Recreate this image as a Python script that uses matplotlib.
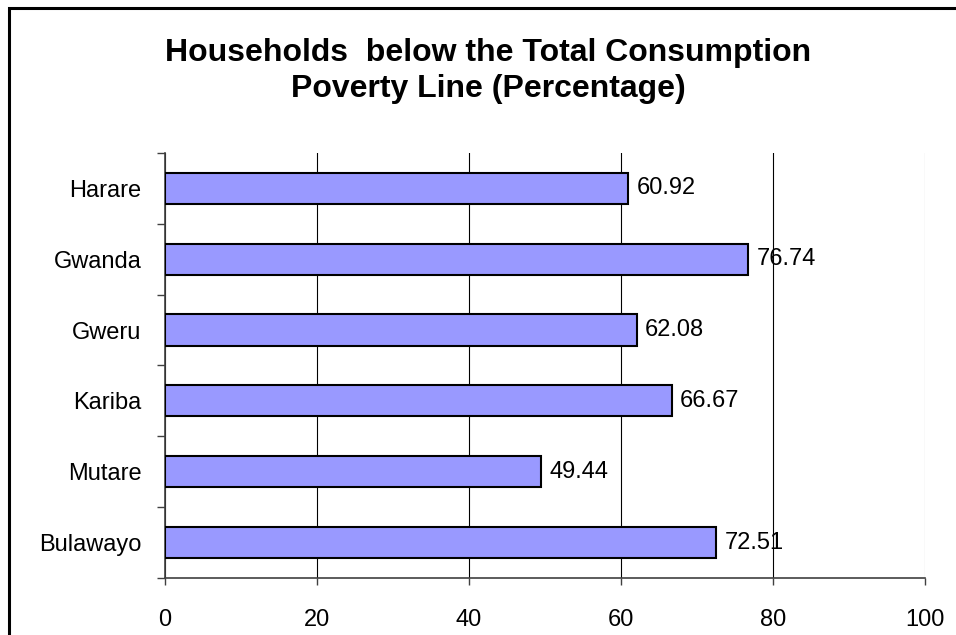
import matplotlib.pyplot as plt
from matplotlib.patches import Rectangle

plt.rcParams['font.family'] = ['Liberation Sans', 'DejaVu Sans']

towns = ['Harare', 'Gwanda', 'Gweru', 'Kariba', 'Mutare', 'Bulawayo']
percent = [60.92, 76.74, 62.08, 66.67, 49.44, 72.51]

fig = plt.figure(figsize=(9.56, 6.35), dpi=100)
ax = fig.add_axes([165/956, 1 - 578/635, 760/956, 425/635])

pos = list(range(len(towns)))
ax.barh(pos, percent, height=0.44, color='#9999FF', edgecolor='black', linewidth=1.5, zorder=3)
for p, v in zip(pos, percent):
    ax.text(v + 1.1, p, f'{v:.2f}', va='center', ha='left', fontsize=17, zorder=4)

ax.set_ylim(len(towns) - 0.5, -0.5)
ax.set_xlim(0, 100)
ax.set_xticks([0, 20, 40, 60, 80, 100])
ax.tick_params(axis='x', labelsize=17, length=5, width=1, color='#404040', pad=17)

# category labels sit between boundary tick marks
ax.set_yticks(pos)
ax.set_yticklabels(towns, fontsize=17)
ax.tick_params(axis='y', which='major', length=0, pad=17)
ax.set_yticks([i - 0.5 for i in range(len(towns) + 1)], minor=True)
ax.tick_params(axis='y', which='minor', length=6, width=1, color='#404040')

ax.grid(axis='x', color='black', linewidth=0.8, zorder=0)
ax.get_xgridlines()[-1].set_color('#a0a0a0')
for s in ['top', 'right']:
    ax.spines[s].set_visible(False)
ax.spines['left'].set_color('#404040')
ax.spines['bottom'].set_color('#404040')
ax.spines['left'].set_linewidth(1.2)
ax.spines['bottom'].set_linewidth(1.2)

fig.text(488/956, 1 - 61/635, 'Households  below the Total Consumption', ha='center', va='baseline',
         fontsize=23, fontweight='bold')
fig.text(488/956, 1 - 97/635, 'Poverty Line (Percentage)', ha='center', va='baseline',
         fontsize=23, fontweight='bold')

# outer chart border
fig.patches.append(Rectangle((9/956, -0.1), 1.2, 1 - 8/635 + 0.1, transform=fig.transFigure,
                             fill=False, edgecolor='black', linewidth=2.2))

fig.savefig('out.png', dpi=100)
